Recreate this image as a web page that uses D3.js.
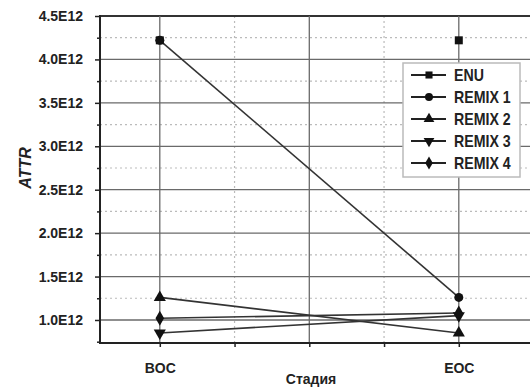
<!DOCTYPE html>
<html>
<head>
<meta charset="utf-8">
<script src="https://cdn.jsdelivr.net/npm/d3@7"></script>
<style>
    body { margin: 0; background: #fff; }
    text { font-family: "Liberation Sans Narrow", "Arial Narrow", "Liberation Sans", sans-serif;
           font-weight: bold; fill: #222; }
</style>
</head>
<body>
<script>
// Chart data
var stages = ["BOC", "EOC"];
var seriesNames = ["ENU", "REMIX 1", "REMIX 2", "REMIX 3", "REMIX 4"];
var enuValues = [4.22e12, 4.22e12];
var remix1Values = [4.22e12, 1.26e12];
var remix2Values = [1.26e12, 0.85e12];
var remix3Values = [0.85e12, 1.05e12];
var remix4Values = [1.02e12, 1.08e12];
var yTicks = [1.0e12, 1.5e12, 2.0e12, 2.5e12, 3.0e12, 3.5e12, 4.0e12, 4.5e12];
var yMinor = [0.75e12, 1.25e12, 1.75e12, 2.25e12, 2.75e12, 3.25e12, 3.75e12, 4.25e12];

var series = [
    {name: seriesNames[0], values: enuValues, symbol: d3.symbolSquare, rot: 0, line: false},
    {name: seriesNames[1], values: remix1Values, symbol: d3.symbolCircle, rot: 0, line: true},
    {name: seriesNames[2], values: remix2Values, symbol: d3.symbolTriangle, rot: 0, line: true},
    {name: seriesNames[3], values: remix3Values, symbol: d3.symbolTriangle, rot: 180, line: true},
    {name: seriesNames[4], values: remix4Values, symbol: d3.symbolDiamond, rot: 0, line: true}
];

var W = 530, H = 389;
var margin = {top: 16, left: 100, bottom: 46};

var svg = d3.select("body").append("svg")
    .attr("width", W)
    .attr("height", H);

// stages sit at positions 1 and 2 on a linear axis
var xScale = d3.scaleLinear().domain([0.8, 2.3]).range([100, 548.5]);
var yScale = d3.scaleLinear().domain([0.735e12, 4.5e12])
    .range([H - margin.bottom, margin.top]);

var x0 = xScale.range()[0], y0 = yScale.range()[0], yTop = yScale.range()[1];

// dotted minor grid
svg.append("g").selectAll("line.hm")
    .data(yMinor.filter(function(d) { return d > 0.8e12; }))
    .enter().append("line")
    .attr("x1", x0).attr("x2", W)
    .attr("y1", function(d) { return yScale(d); })
    .attr("y2", function(d) { return yScale(d); })
    .attr("stroke", "#bbb").attr("stroke-width", 1.2)
    .attr("stroke-dasharray", "2,3");

svg.append("g").selectAll("line.vm")
    .data([1.25, 1.75, 2.25])
    .enter().append("line")
    .attr("x1", function(d) { return xScale(d); })
    .attr("x2", function(d) { return xScale(d); })
    .attr("y1", yTop).attr("y2", y0)
    .attr("stroke", "#bbb").attr("stroke-width", 1.2)
    .attr("stroke-dasharray", "2,3");

// solid major grid
svg.append("g").selectAll("line")
    .data(yTicks)
    .enter().append("line")
    .attr("x1", x0).attr("x2", W)
    .attr("y1", function(d) { return yScale(d); })
    .attr("y2", function(d) { return yScale(d); })
    .attr("stroke", function(d) { return d === 4.5e12 ? "#333" : "#6a6a6a"; })
    .attr("stroke-width", function(d) { return d === 4.5e12 ? 2 : 1.3; });

svg.append("g").selectAll("line")
    .data([1, 1.5, 2])
    .enter().append("line")
    .attr("x1", function(d) { return xScale(d); })
    .attr("x2", function(d) { return xScale(d); })
    .attr("y1", yTop).attr("y2", y0)
    .attr("stroke", "#6a6a6a").attr("stroke-width", 1.3);

// axes
var yAxis = d3.axisLeft(yScale).tickValues(yTicks).tickSize(5).tickPadding(12)
    .tickFormat(function(d) { return (d / 1e12).toFixed(1) + "E12"; });
var gy = svg.append("g")
    .attr("transform", "translate(" + x0 + ",0)")
    .call(yAxis);
gy.select(".domain").remove();
gy.selectAll(".tick line").attr("stroke", "#222").attr("stroke-width", 1.5);
gy.selectAll("text").attr("font-size", "14px").attr("fill", "#222")
    .attr("font-family", null);

var yAxisMinor = d3.axisLeft(yScale).tickValues(yMinor).tickSize(3)
    .tickFormat("");
var gym = svg.append("g")
    .attr("transform", "translate(" + x0 + ",0)")
    .call(yAxisMinor);
gym.select(".domain").remove();
gym.selectAll(".tick line").attr("stroke", "#222").attr("stroke-width", 1.5);

var xAxis = d3.axisBottom(xScale).tickValues([1, 1.25, 1.5, 1.75, 2])
    .tickSize(4).tickPadding(16)
    .tickFormat(function(d) {
        return d === 1 ? stages[0] : d === 2 ? stages[1] : "";
    });
var gx = svg.append("g")
    .attr("transform", "translate(0," + y0 + ")")
    .call(xAxis);
gx.select(".domain").remove();
gx.selectAll(".tick line").attr("stroke", "#222").attr("stroke-width", 1.5);
gx.selectAll("text").attr("font-size", "14px").attr("fill", "#222")
    .attr("font-family", null);

svg.append("line")
    .attr("x1", x0).attr("x2", x0).attr("y1", yTop - 1).attr("y2", y0 + 1)
    .attr("stroke", "#222").attr("stroke-width", 2);
svg.append("line")
    .attr("x1", x0 - 1).attr("x2", W).attr("y1", y0).attr("y2", y0)
    .attr("stroke", "#222").attr("stroke-width", 2);

// series lines
var line = d3.line()
    .x(function(d, i) { return xScale(i + 1); })
    .y(function(d) { return yScale(d); });

svg.append("g").selectAll("path")
    .data(series.filter(function(s) { return s.line; }))
    .enter().append("path")
    .attr("d", function(s) { return line(s.values); })
    .attr("fill", "none")
    .attr("stroke", "#333")
    .attr("stroke-width", 1.6);

// markers
series.forEach(function(s) {
    svg.append("g").selectAll("path")
        .data(s.values)
        .enter().append("path")
        .attr("d", d3.symbol().type(s.symbol).size(64))
        .attr("transform", function(d, i) {
            return "translate(" + xScale(i + 1) + "," + yScale(d) + ") rotate(" + s.rot + ")";
        })
        .attr("fill", "#111");
});

// legend
var leg = svg.append("g").attr("transform", "translate(403,63)");
leg.append("rect")
    .attr("width", 117).attr("height", 114)
    .attr("fill", "#fff").attr("stroke", "#bbb").attr("stroke-width", 1.5);

var items = leg.selectAll("g.item")
    .data(series)
    .enter().append("g")
    .attr("transform", function(d, i) { return "translate(0," + (12 + i * 22) + ")"; });
items.append("line")
    .attr("x1", 8).attr("x2", 43)
    .attr("stroke", "#222").attr("stroke-width", 1.8);
items.append("path")
    .attr("d", function(d) { return d3.symbol().type(d.symbol).size(50)(); })
    .attr("transform", function(d) { return "translate(26,0) rotate(" + d.rot + ")"; })
    .attr("fill", "#111");
items.append("text")
    .attr("transform", "translate(51,6) scale(0.86,1)")
    .attr("font-size", "16.5px")
    .text(function(d) { return d.name; });

// axis titles
svg.append("text")
    .attr("transform", "translate(31,168) rotate(-90)")
    .attr("text-anchor", "middle")
    .attr("font-size", "16px")
    .attr("font-style", "italic")
    .attr("font-weight", "normal")
    .text("ATTR");

svg.append("text")
    .attr("x", 311).attr("y", 384)
    .attr("text-anchor", "middle")
    .attr("font-size", "14px")
    .text("Стадия");
</script>
</body>
</html>
